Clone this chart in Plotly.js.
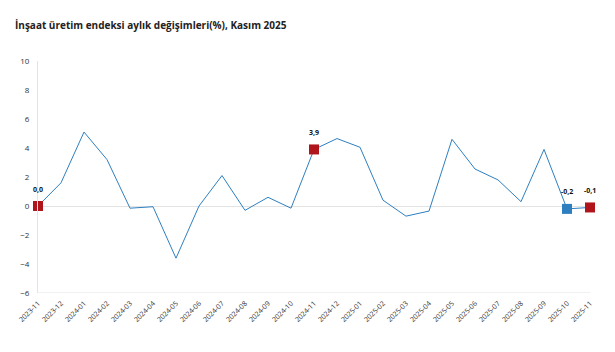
<!DOCTYPE html>
<html>
<head>
<meta charset="utf-8">
<script src="https://cdn.plot.ly/plotly-3.0.1.min.js"></script>
<style>html,body{margin:0;padding:0;background:#fff;}#chart{width:615px;height:352px;}</style>
</head>
<body>
<div id="chart"></div>
<script>
const months = ["2023-11","2023-12","2024-01","2024-02","2024-03","2024-04","2024-05","2024-06","2024-07","2024-08","2024-09","2024-10","2024-11","2024-12","2025-01","2025-02","2025-03","2025-04","2025-05","2025-06","2025-07","2025-08","2025-09","2025-10","2025-11"];
const values = [0.0,1.6,5.1,3.2,-0.15,-0.05,-3.6,0.0,2.1,-0.3,0.6,-0.15,3.9,4.65,4.05,0.4,-0.7,-0.35,4.6,2.55,1.8,0.3,3.9,-0.2,-0.1];
const redMonths = ["2023-11","2024-11","2025-11"];
const blueMonths = ["2025-10"];

const lookup = m => values[months.indexOf(m)];
const fmt = v => v.toFixed(1).replace('.', ',');

const traces = [
  {x: months, y: values, type: 'scatter', mode: 'lines', cliponaxis: false,
   line: {color: '#2e7fc0', width: 1}, hoverinfo: 'x+y'},
  {x: redMonths, y: redMonths.map(lookup), type: 'scatter', mode: 'markers', cliponaxis: false,
   marker: {symbol: 'square', size: 10, color: '#b0151c'}},
  {x: blueMonths, y: blueMonths.map(lookup), type: 'scatter', mode: 'markers', cliponaxis: false,
   marker: {symbol: 'square', size: 10, color: '#2e7fc0'}}
];

const labelMonths = redMonths.concat(blueMonths);
const annotations = labelMonths.map(m => ({
  x: m, y: lookup(m), xref: 'x', yref: 'y', text: '<b>' + fmt(lookup(m)) + '</b>',
  showarrow: false, yshift: 17,
  font: {family: 'Open Sans, sans-serif', size: 7, color: '#111'}
}));

const layout = {
  width: 615, height: 352,
  margin: {l: 38, r: 25, t: 61, b: 59},
  paper_bgcolor: '#fff', plot_bgcolor: '#fff',
  showlegend: false,
  title: {text: '<b>İnşaat üretim endeksi aylık değişimleri(%), Kasım 2025</b>',
          x: 15/615, xanchor: 'left', y: 1 - 25/352, yanchor: 'middle',
          font: {family: 'Open Sans, sans-serif', size: 10, color: '#222'}},
  xaxis: {type: 'category', range: [0, 24], showgrid: false, zeroline: false,
          showline: false, tickangle: -45, ticks: '', ticklabelstandoff: 4,
          tickfont: {family: 'Open Sans, sans-serif', size: 7, color: '#333'}},
  yaxis: {range: [-6, 10], dtick: 2, showgrid: false, zeroline: true,
          zerolinecolor: '#e3e3e3', zerolinewidth: 1,
          showline: true, linecolor: '#e3e3e3', linewidth: 1, mirror: false,
          ticks: '', ticklabelstandoff: 6,
          tickfont: {family: 'Open Sans, sans-serif', size: 8, color: '#333'}},
  annotations: annotations,
  shapes: [{type: 'line', xref: 'paper', yref: 'y', x0: 0, x1: 1, y0: -6, y1: -6,
            line: {color: '#e3e3e3', width: 1}}]
};

Plotly.newPlot('chart', traces, layout, {displayModeBar: false, staticPlot: true});
</script>
</body>
</html>
